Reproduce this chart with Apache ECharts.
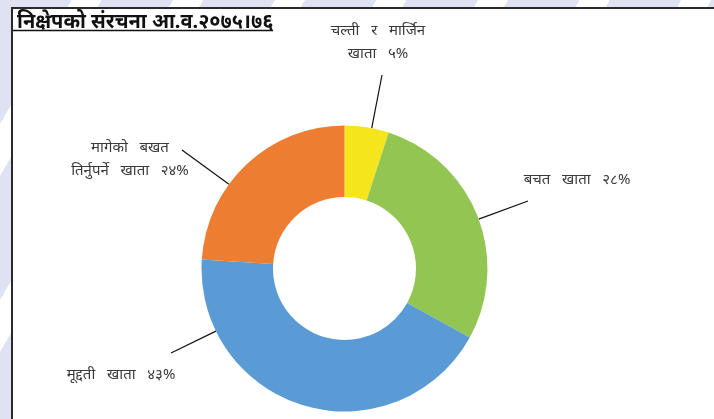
<!DOCTYPE html>
<html><head><meta charset="utf-8">
<script src="https://cdn.jsdelivr.net/npm/echarts@6/dist/echarts.min.js"></script>
<style>
html,body{margin:0;padding:0;}
body{width:714px;height:419px;overflow:hidden;background:repeating-linear-gradient(120deg,#dfe2f3 0px,#dfe2f3 62px,#ffffff 62px,#ffffff 88px);}
#c{width:714px;height:419px;}
</style></head><body><div id="c"></div>
<script>
// ---- data ----
const titleText = 'निक्षेपको संरचना आ.व.२०७५।७६';
const categories = ['चल्ती र मार्जिन\nखाता', 'बचत खाता', 'मूद्दती खाता', 'मागेको बखत\nतिर्नुपर्ने खाता'];
const shares = [5, 28, 43, 24];
const colors = ['#f4e51d', '#93c553', '#5b9bd5', '#ed7d31'];

// ---- layout config (not data) ----
const pieCenter = [344.5, 268.5];
const outerR = 143, innerR = 71.5;
const labelCenters = [[378, 42], [577, 180], [121, 375], [130, 159]];
const leaderEnds = [[382, 75], [528, 201], [171, 353], [182, 150]];

const devDigits = '०१२३४५६७८९';
const toDev = n => String(n).replace(/[0-9]/g, d => devDigits[+d]);

const chart = echarts.init(document.getElementById('c'), null, {renderer: 'canvas'});
const fontFam = '"Noto Sans", "Noto Sans Devanagari", "DejaVu Sans", sans-serif';

chart.setOption({
  animation: false,
  title: {
    text: titleText, left: 12, top: 7,
    textStyle: {fontFamily: fontFam, fontSize: 20, fontWeight: 'bold', color: '#111'}
  },
  graphic: [
    {type: 'rect', z: -1, shape: {x: 12, y: 8, width: 730, height: 440},
     style: {fill: '#ffffff', stroke: '#2a2a2a', lineWidth: 2}},
    {type: 'line', z: 10, shape: {x1: 13, y1: 30.5, x2: 273, y2: 30.5},
     style: {stroke: '#111', lineWidth: 1.3}}
  ],
  series: [{
    type: 'pie',
    center: pieCenter,
    radius: [innerR, outerR],
    startAngle: 90,
    clockwise: true,
    data: categories.map((c, i) => ({name: c, value: shares[i], itemStyle: {color: colors[i]}})),
    label: {
      show: true,
      formatter: p => p.name.replace(/ /g, '   ') + '   ' + toDev(p.value) + '%',
      fontFamily: fontFam, fontSize: 15, color: '#3a3a3a', lineHeight: 23
    },
    labelLine: {show: true, length: 10, length2: 0, lineStyle: {color: '#111', width: 1.2}},
    labelLayout: p => {
      const i = p.dataIndex;
      const e = leaderEnds[i];
      const dx = e[0] - pieCenter[0], dy = e[1] - pieCenter[1];
      const d = Math.sqrt(dx * dx + dy * dy);
      const s = [pieCenter[0] + dx / d * outerR, pieCenter[1] + dy / d * outerR];
      return {
        x: labelCenters[i][0], y: labelCenters[i][1],
        align: 'center', verticalAlign: 'middle',
        labelLinePoints: [s, s, e]
      };
    },
    emphasis: {disabled: true}
  }]
});
</script></body></html>
